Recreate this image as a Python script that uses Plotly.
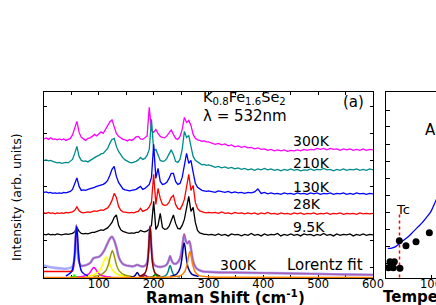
import plotly.graph_objects as go

# ---------------- data: Raman spectra (left panel) ----------------
RAMAN_X = [0, 4, 8, 12, 16, 20, 24, 28, 32, 36, 40, 44, 48, 52, 56, 60, 64, 68, 72, 76,
           80, 84, 88, 92, 96, 100, 104, 108, 112, 116, 120, 124, 128, 132, 136, 140, 144, 148, 152, 156,
           160, 164, 168, 172, 176, 180, 184, 188, 192, 196, 200, 204, 208, 212, 216, 220, 224, 228, 232, 236,
           240, 244, 248, 252, 256, 260, 264, 268, 272, 276, 280, 284, 288, 292, 296, 300,
           306, 312, 318, 324, 330, 336, 342, 348, 354, 360, 366, 372, 378, 384, 390, 396, 402, 408, 414, 420,
           426, 432, 438, 444, 450, 456, 462, 468, 474, 480, 486, 492, 498, 504, 510, 516, 522, 528, 534, 540,
           546, 552, 558, 564, 570, 576, 582, 588, 594, 600]

I_300K = [138.5, 139.5, 138, 139.5, 138, 138.5, 137.5, 138.5, 137.5, 138.5,
          137, 138, 139, 142.5, 150, 156, 145, 140, 138.5, 137,
          139, 139.5, 141, 143, 141.5, 144, 145.5, 144, 147.5, 152,
          155.5, 157.5, 150, 144, 141, 139.5, 138, 137.5, 136.5, 138,
          137, 138.5, 140.5, 141, 138.5, 138, 140, 141.5, 170, 147,
          145, 148, 144, 141, 140, 139.5, 141.5, 145, 147.5, 143,
          139, 138, 141, 148, 160, 155, 157, 152, 143, 139,
          137.5, 137, 136, 136.5, 135.5, 135.5,
          134.5, 133, 134, 132.5, 133.5, 131.5, 132.5, 130.5, 131.5, 130,
          131, 129.5, 130, 128.5, 129.5, 128, 128.5, 127, 128, 126.5,
          127.5, 126.5, 127.5, 126, 127, 126.5, 127.5, 126.5, 128, 127,
          128, 127.5, 129, 128, 129, 127.5, 129, 128, 128.5, 127,
          128.5, 127.5, 128.5, 127, 128, 127, 128.5, 127, 128, 127.5]

I_210K = [117, 117.5, 116.5, 117, 116, 115.5, 114.5, 115, 114, 114.5,
          115, 114.5, 116, 118, 124, 131, 121, 117, 116, 116.5,
          115.5, 117, 118, 120, 121, 122, 123.5, 124, 126, 129,
          134, 138, 139, 131, 126, 122, 119.5, 117.5, 116, 115,
          114.5, 115, 116, 117.5, 120, 118, 119, 122, 128, 158,
          127, 128, 122, 117, 116, 116.5, 119, 123, 127.5, 123,
          116, 115, 118, 128, 146, 140, 142, 131, 121, 117,
          115, 114, 112.5, 113, 112, 112.5,
          111.5, 110, 111, 109.5, 110.5, 109, 110, 108.5, 109.5, 108,
          109, 107.5, 108.5, 107, 108.5, 107.5, 109, 107.5, 108.5, 107,
          108, 106.5, 108, 107, 108.5, 107, 108, 106.5, 107.5, 107,
          108.5, 107, 108, 107.5, 109, 107.5, 108, 106.5, 108, 107,
          108.5, 107, 108, 107.5, 108.5, 107, 108, 107, 108.5, 107.5]

I_130K = [85, 85.5, 84.5, 85, 84, 84.5, 84, 84.5, 84, 85,
          84.5, 85, 86, 88, 93, 99.5, 91, 87, 87.5, 87,
          88, 88.5, 89.5, 90, 91, 91.5, 92, 93, 94.5, 97,
          102, 108, 111, 101, 95, 91, 88.5, 87.5, 87, 86.5,
          87, 87.5, 88, 89.5, 91, 88, 89, 91, 93, 100,
          133, 99, 109, 96, 93, 93.5, 95, 99, 104, 104,
          96, 93, 94, 100, 112, 124, 114, 117, 105, 94,
          90, 88, 87, 86.5, 86, 86.5,
          86, 85, 86.5, 85.5, 85, 86, 84.5, 85.5, 84.5, 85,
          84, 85, 84.5, 85.5, 88.5, 84, 85, 83.5, 84.5, 83.5,
          84, 83, 84.5, 83.5, 84, 83, 84.5, 83.5, 84, 83,
          84.5, 83.5, 84.5, 83, 84, 83.5, 84.5, 83, 84, 83.5,
          84.5, 83, 84, 83, 84.5, 83.5, 84, 83, 84, 83.5]

I_28K = [64.5, 64, 65, 64, 64.5, 63.5, 64.5, 64, 64.5, 64,
         65, 64.5, 65, 65.5, 67, 70.5, 66.5, 65, 64.5, 65,
         65.5, 65, 66, 66.5, 66, 67, 67.5, 67, 68, 69.5,
         72.5, 77, 84, 80, 71, 67, 65.5, 65, 64.5, 64.5,
         65, 64.5, 65.5, 66, 69, 66, 67, 68, 70.5, 75,
         103, 73, 89, 79, 73, 72, 72.5, 75, 80, 82,
         73, 69, 68, 72, 78, 90, 103, 87, 92, 75,
         69, 66.5, 65.5, 65, 64.5, 65,
         64.5, 65, 64, 65.5, 64, 64.5, 63.5, 65, 64, 64.5,
         63.5, 64.5, 63.5, 64.5, 63, 64.5, 63.5, 65, 63.5, 64,
         63, 64.5, 63.5, 64, 63, 64.5, 63.5, 64.5, 63, 64,
         63.5, 64.5, 63, 64, 63.5, 64.5, 63, 64, 63.5, 64.5,
         63, 64, 63.5, 64, 63, 64.5, 63.5, 64, 63.5, 64]

I_9K = [43, 42.5, 43.5, 42.5, 43, 42.5, 43.5, 43, 42.5, 43,
        43.5, 43, 43.5, 44, 45.5, 50, 46, 44, 43.5, 44,
        43.5, 44.5, 45, 45, 46, 47, 47.5, 47, 48.5, 49.5,
        52, 55, 60, 62.5, 52, 47.5, 46, 45, 44.5, 44,
        44.5, 44, 45, 45, 47, 46, 45.5, 46.5, 48, 52,
        76, 48, 52, 64, 50, 48, 48.5, 51, 56, 62.5,
        54, 49, 48.5, 52, 58, 68, 81, 66, 70, 55,
        47, 44.5, 43.5, 43, 43, 42.5,
        43, 42, 43.5, 42, 43, 41.5, 43.5, 42.5, 43, 41.5,
        43, 42, 44, 42, 43, 41.5, 43.5, 42, 43, 42.5,
        44, 41.5, 43, 42, 43.5, 42, 43, 41.5, 43.5, 42.5,
        43, 41.5, 43, 42, 44, 42, 43, 41.5, 43.5, 42,
        43, 42.5, 43.5, 41.5, 43, 42, 43.5, 42, 43, 42.5]

SPECTRA_LABELS = ["300K", "210K", "130K", "28K", "9.5K"]
SPECTRA_COLORS = ["#ff00ff", "#008b8b", "#0000ff", "#ff0000", "#000000"]

# 300K spectrum used for the Lorentz fit (bottom)
FIT_X = [0, 10, 20, 30, 40, 48, 52, 55, 57, 59, 61, 63, 66, 70, 75, 80, 85, 90, 95, 100,
         105, 110, 115, 120, 124, 128, 132, 136, 140, 145, 150, 155, 160, 165, 170, 175, 180, 184, 188, 191,
         193.4, 196, 199, 202, 206, 212, 218, 224, 228, 230, 232, 236, 242, 248, 252, 255.6, 259, 262, 265, 268,
         272, 276, 282, 290, 300, 320, 350, 400, 450, 500, 550, 600]
DATA_300K = [12, 10.5, 9.5, 9, 8.7, 9.5, 11, 17, 33, 52, 33, 18, 12.5, 11.5, 12, 13, 15, 19, 20, 20.5,
             23, 27, 33, 38.5, 40.5, 37, 30, 21, 16, 13, 12, 11.5, 11, 11.5, 12.7, 11.5, 11, 11.5, 15, 30,
             51, 30, 15, 12, 11, 10.5, 11, 13, 18, 21, 18, 14, 14, 19, 30, 42.7, 36, 34, 36, 29,
             16, 10.5, 7.5, 6, 5.5, 5, 4.8, 4.4, 4, 3.5, 3, 2.7]
FIT_SUM = [6, 6, 6, 6, 6, 6, 6.5, 15, 33, 52.5, 33, 18, 12.5, 11.5, 12, 13, 15, 19, 20, 20.5,
           23, 27, 33, 38.5, 41, 37, 30, 21, 16, 13, 12, 11.5, 11, 11.5, 12.7, 11.5, 11, 11.5, 15, 30,
           51.5, 30, 15, 12, 11, 10.5, 11, 13, 18, 21.5, 18, 14, 14, 19, 30, 43.5, 36, 34, 36.5, 29,
           16, 10.5, 7.5, 6, 5.5, 5, 4.8, 4.4, 4, 3.5, 3, 2.7]

# Lorentz components (sampled)
LZ_LIME_X = [48, 52, 54, 55, 56, 58, 62]
LZ_LIME_Y = [0.2, 0.6, 1.3, 2.5, 1.3, 0.6, 0.2]
LZ_BLUE_X = [40, 50, 54, 56, 58, 59.5, 61, 63, 65, 69, 80]
LZ_BLUE_Y = [1.4, 5.5, 13.5, 24.0, 42.3, 51, 42.3, 24.0, 13.5, 5.5, 1.3]
LZ_MAGENTA_X = [60, 72, 80, 84, 88, 91, 94, 98, 102, 110, 122]
LZ_MAGENTA_Y = [0.5, 1.2, 2.9, 5, 8.4, 10, 8.4, 5, 2.9, 1.2, 0.5]
LZ_YELLOW_X = [75, 90, 100, 105, 109, 113.5, 118, 122, 127, 137, 152]
LZ_YELLOW_Y = [0.95, 2.4, 5.8, 10.2, 15.9, 20.4, 15.9, 10.2, 5.8, 2.4, 0.95]
LZ_OLIVE_X = [90, 102, 112, 117, 121, 124.7, 128.5, 132, 137, 147, 160]
LZ_OLIVE_Y = [1.0, 2.3, 6.2, 12.1, 20.9, 26.7, 20.6, 12.8, 6.5, 2.4, 1.0]
LZ_NAVY1_X = [158, 164, 167, 170, 173, 176, 182]
LZ_NAVY1_Y = [0.3, 1.0, 2.5, 5, 2.5, 1.0, 0.3]
LZ_PURPLE_X = [174, 179.5, 182, 184.3, 186.5, 189, 195]
LZ_PURPLE_Y = [0.15, 0.5, 1.35, 2.5, 1.35, 0.5, 0.15]
LZ_MAROON_X = [175, 184, 188, 190.5, 192, 193.4, 194.8, 196.3, 199, 203, 212]
LZ_MAROON_Y = [1.15, 4.2, 10.8, 24.6, 40.8, 51, 40.8, 24.6, 10.2, 4.0, 1.1]
LZ_GREEN_X = [194, 198, 200.5, 203, 205.5, 208, 212]
LZ_GREEN_Y = [0.2, 0.6, 1.5, 3, 1.5, 0.6, 0.2]
LZ_TEAL_X = [212, 220, 224, 227, 228.6, 230, 231.4, 233, 236, 240, 248]
LZ_TEAL_Y = [0.44, 1.3, 3.0, 6.9, 10.3, 12, 10.3, 6.9, 3.0, 1.3, 0.44]
LZ_NAVY2_X = [230, 242, 248, 252, 254, 255.6, 257.2, 259, 263, 269, 282]
LZ_NAVY2_Y = [1.0, 3.4, 8.9, 21, 30.5, 34.4, 30.5, 21.9, 9.3, 3.5, 1.0]
LZ_ORANGE_X = [0, 200, 236, 250, 256, 261, 263.5, 266, 268.5, 271, 276, 282, 296, 340, 600]
LZ_ORANGE_Y = [0, 0.15, 0.7, 2.1, 5.2, 13, 20.8, 26, 20.8, 13, 5.2, 2.1, 0.7, 0.12, 0]

# ---------------- data: right panel (A1g mode vs temperature) ----------------
T_DOTS = [5.2, 8.9, 16.3, 18.5, 31, 29.6, 44.4, 66.7, 96.3]
W_DOTS = [9.7, 15.7, 9.7, 15.7, 9.1, 36.7, 31.7, 35.7, 44.7]
CURVE_T = [4, 10, 16, 22, 30, 40, 50, 60, 70, 80, 90, 100, 110, 120]
CURVE_W = [29, 29, 29.7, 31, 34, 37.5, 41, 45.5, 50, 54.5, 60, 66, 76, 86]
TC_T = [30, 30]
TC_W = [0, 64.4]

# ---------------- figure ----------------
W, H = 436, 305
ML, MR, MT, MB = 44, 0, 92, 27
PW, PH = W - ML - MR, H - MT - MB


def px(x):
    return (x - ML) / PW


def py(y):
    return (H - MB - y) / PH


FONT = "DejaVu Sans"
fig = go.Figure()

for ys, col in zip([I_300K, I_210K, I_130K, I_28K, I_9K], SPECTRA_COLORS):
    fig.add_trace(go.Scatter(x=RAMAN_X, y=ys, mode="lines",
                             line=dict(color=col, width=1.3), hoverinfo="skip"))

fig.add_trace(go.Scatter(x=FIT_X, y=FIT_SUM, mode="lines", line=dict(color="#ff0000", width=1.5, shape="spline"),
                         hoverinfo="skip"))
fig.add_trace(go.Scatter(x=FIT_X, y=DATA_300K, mode="lines", opacity=0.7,
                         line=dict(color="#8585ff", width=2.6, shape="spline"), hoverinfo="skip"))

components = [
    (LZ_LIME_X, LZ_LIME_Y, "#00ff00"),
    (LZ_MAGENTA_X, LZ_MAGENTA_Y, "#ff00ff"),
    (LZ_YELLOW_X, LZ_YELLOW_Y, "#ffff00"),
    (LZ_OLIVE_X, LZ_OLIVE_Y, "#999900"),
    (LZ_NAVY1_X, LZ_NAVY1_Y, "#000080"),
    (LZ_PURPLE_X, LZ_PURPLE_Y, "#800080"),
    (LZ_MAROON_X, LZ_MAROON_Y, "#800000"),
    (LZ_GREEN_X, LZ_GREEN_Y, "#008000"),
    (LZ_TEAL_X, LZ_TEAL_Y, "#008080"),
    (LZ_NAVY2_X, LZ_NAVY2_Y, "#0000a0"),
    (LZ_BLUE_X, LZ_BLUE_Y, "#0000ff"),
    (LZ_ORANGE_X, LZ_ORANGE_Y, "#ff8000"),
]
for cx, cy, col in components:
    fig.add_trace(go.Scatter(x=cx, y=cy, mode="lines",
                             line=dict(color=col, width=1.5, shape="spline"), hoverinfo="skip"))

# right panel
fig.add_trace(go.Scatter(x=TC_T, y=TC_W, mode="lines", xaxis="x2", yaxis="y2",
                         line=dict(color="#ff0000", width=1.5, dash="dot"), hoverinfo="skip"))
fig.add_trace(go.Scatter(x=CURVE_T, y=CURVE_W, mode="lines", xaxis="x2", yaxis="y2",
                         line=dict(color="#0000ff", width=1.3, shape="spline"), hoverinfo="skip"))
fig.add_trace(go.Scatter(x=T_DOTS, y=W_DOTS, mode="markers", xaxis="x2", yaxis="y2",
                         marker=dict(color="#000000", size=7), hoverinfo="skip"))

X_TICKS = [0, 50, 100, 150, 200, 250, 300, 350, 400, 450, 500, 550, 600]
X_TICKTEXT = ["", "", "100", "", "200", "", "300", "", "400", "", "500", "", "600"]
Y_TICKS = [10.4, 37.4, 64.4, 90.7, 117.4, 144.1, 170.7]
Y2_TICKS = [14.1, 31.4, 48.4, 65.1, 82.4, 99.1, 116.4, 133.1, 150.7, 167.4]

axis_common = dict(showline=True, linecolor="black", linewidth=1, ticks="inside",
                   tickcolor="black", showgrid=False, zeroline=False, layer="below traces",
                   automargin=False)

fig.update_layout(
    width=W, height=H, margin=dict(l=ML, r=MR, t=MT, b=MB, pad=0, autoexpand=False),
    paper_bgcolor="white", plot_bgcolor="white", showlegend=False,
    font=dict(family=FONT, color="black"),
    xaxis=dict(domain=[0, px(373)], range=[0, 600], tickvals=X_TICKS, ticktext=X_TICKTEXT,
               ticklen=3, mirror="ticks", tickfont=dict(size=11.5, family=FONT), anchor="y",
               ticklabelstandoff=-5, **axis_common),
    yaxis=dict(domain=[0, 1], range=[-0.6, 185.4], tickvals=Y_TICKS, showticklabels=False,
               ticklen=3, mirror="ticks", anchor="x", **axis_common),
    xaxis2=dict(domain=[px(386), 1], range=[0, 111.1], tickvals=[100], ticktext=["100"],
                ticklen=3, mirror=True, tickfont=dict(size=11.5, family=FONT), anchor="y2",
                ticklabeloverflow="allow", ticklabelstandoff=-5, **axis_common),
    yaxis2=dict(domain=[0, 1], range=[-0.6, 185.4], tickvals=Y2_TICKS, showticklabels=False,
                ticklen=4, mirror=False, anchor="x2", **axis_common),
)

ann = []


def add_text(text, x, y, size, xanchor="left", angle=0, family=FONT, weight="normal"):
    ann.append(dict(text=text, x=px(x), y=py(y), xref="paper", yref="paper", showarrow=False,
                    xanchor=xanchor, yanchor="middle", textangle=angle,
                    font=dict(size=size, family=family, color="black", weight=weight)))


add_text("K<sub>0.8</sub>Fe<sub>1.6</sub>Se<sub>2</sub>", 201, 98, 14.5)
add_text("λ = 532nm", 201, 116, 15)
add_text("(a)", 353, 102, 15, xanchor="center")
for lab, yy in zip(SPECTRA_LABELS, [141, 163.3, 187.3, 204, 226.7]):
    add_text(lab, 291, yy, 14)
add_text("300K", 238, 265, 14, xanchor="center")
add_text("Lorentz fit", 324.5, 265, 15, xanchor="center")
add_text("Raman Shift (cm<sup>-1</sup>)", 225, 296.5, 15, xanchor="center", weight="bold")
add_text("Temperature (K)", 381, 296.5, 15, weight="bold")
add_text("Intensity (arb. units)", 16, 197, 12.5, xanchor="center", angle=-90)
add_text("Tc", 394, 209, 13)
add_text("A<sub>1g</sub>", 423, 130, 15)
fig.update_layout(annotations=ann)

fig.write_html("out.html", config={"displayModeBar": False},
               post_script="document.body.style.margin='0';document.body.style.overflow='hidden';")
